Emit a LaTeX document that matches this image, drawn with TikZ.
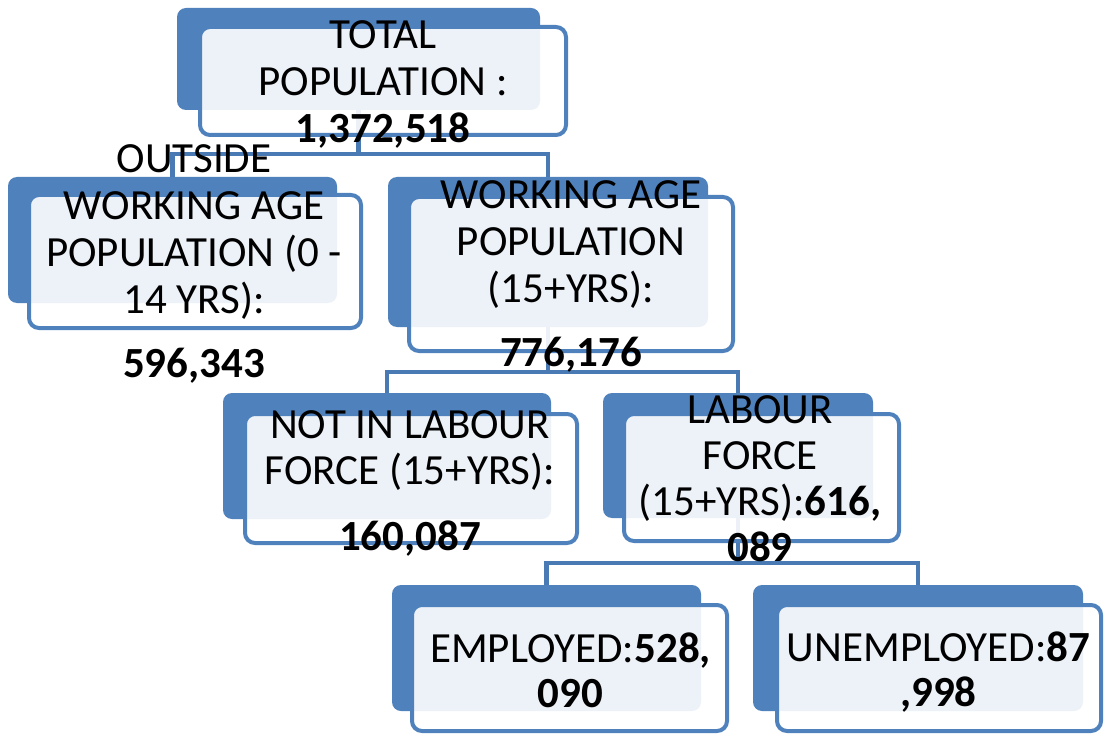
\documentclass[tikz,border=0pt]{standalone}
\usepackage{fontspec}
\setmainfont{Carlito}
\definecolor{boxblue}{HTML}{4F81BD}
\definecolor{connblue}{HTML}{4A7AB4}
\tikzset{
  backbox/.style={fill=boxblue, rounded corners=9pt, inner sep=0pt},
  frontbox/.style={fill=white, fill opacity=0.9, draw=boxblue, line width=4pt, rounded corners=10pt, inner sep=0pt},
  conn/.style={draw=connblue, line width=4.5pt},
  txt/.style={align=center, inner sep=0pt, anchor=north, text=black},
  big/.style={font=\fontsize{43}{47}\selectfont},
  mid/.style={font=\fontsize{43}{46}\selectfont},
  small/.style={font=\fontsize{43}{44.5}\selectfont}
}
\begin{document}
\begin{tikzpicture}[x=1pt,y=-1pt]
\useasboundingbox (0,0) rectangle (1105,735);
% back boxes
\node[backbox, minimum width=363pt, minimum height=102pt] (n1b) at (358.5,59) {};
\node[backbox, minimum width=329pt, minimum height=126pt] (n2b) at (172.5,240) {};
\node[backbox, minimum width=320pt, minimum height=150pt] (n3b) at (548,252) {};
\node[backbox, minimum width=328pt, minimum height=126pt] (n4b) at (387,456) {};
\node[backbox, minimum width=270pt, minimum height=125pt] (n5b) at (738,455.5) {};
\node[backbox, minimum width=309pt, minimum height=126pt] (n6b) at (546.5,648) {};
\node[backbox, minimum width=330pt, minimum height=126pt] (n7b) at (918,648) {};
% connectors
\draw[conn] (n1b.south) -- ++(0,44) -| (n2b.north);
\draw[conn] (n1b.south) -- ++(0,44) -| (n3b.north);
\draw[conn] (n3b.south) -- ++(0,45) -| (n4b.north);
\draw[conn] (n3b.south) -- ++(0,45) -| (n5b.north);
\draw[conn] (n5b.south) -- ++(0,45) -| (n6b.north);
\draw[conn] (n5b.south) -- ++(0,45) -| (n7b.north);
% front boxes
\node[frontbox, minimum width=366pt, minimum height=108pt] (n1f) at (383,81) {};
\node[frontbox, minimum width=332pt, minimum height=133pt] (n2f) at (195,261.5) {};
\node[frontbox, minimum width=324pt, minimum height=154pt] (n3f) at (571,274) {};
\node[frontbox, minimum width=332pt, minimum height=129pt] (n4f) at (411,478.5) {};
\node[frontbox, minimum width=275pt, minimum height=127pt] (n5f) at (761.5,477.5) {};
\node[frontbox, minimum width=315pt, minimum height=126pt] (n6f) at (569.5,668) {};
\node[frontbox, minimum width=324pt, minimum height=126pt] (n7f) at (939,668) {};
% texts
\node[txt, big] (n1t) at (383,20) {TOTAL\\POPULATION :\\\textbf{1,372,518}};
\node[txt, big] (n2t) at (194,144) {OUTSIDE\\WORKING AGE\\POPULATION (0 -\\14 YRS):\\[17pt]\textbf{596,343}};
\node[txt, big] (n3t) at (571,180) {WORKING AGE\\POPULATION\\(15+YRS):\\[17pt]\textbf{776,176}};
\node[txt, mid] (n4t) at (410,410) {NOT IN LABOUR\\FORCE (15+YRS):\\[20pt]\textbf{160,087}};
\node[txt, mid] (n5t) at (760,395) {LABOUR\\FORCE\\(15+YRS):\textbf{616,}\\\textbf{089}};
\node[txt, small] (n6t) at (570.5,633) {EMPLOYED:\textbf{528,}\\\textbf{090}};
\node[txt, small] (n7t) at (938.5,632) {UNEMPLOYED:\textbf{87}\\\textbf{,998}};
\end{tikzpicture}
\end{document}
